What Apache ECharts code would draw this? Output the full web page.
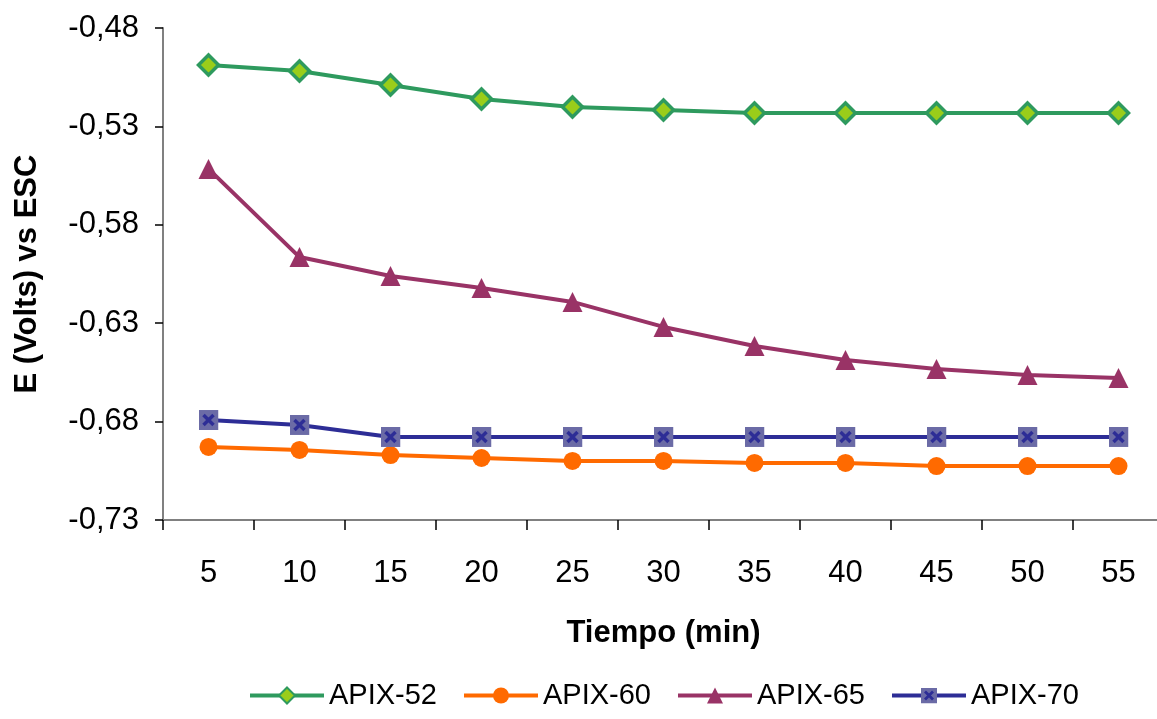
<!DOCTYPE html>
<html>
<head>
<meta charset="utf-8">
<script src="https://cdn.jsdelivr.net/npm/echarts@6/dist/echarts.min.js"></script>
<style>
  html, body { margin: 0; padding: 0; background: #fff; overflow: hidden; }
  /* el eje X del original sigue un poco más allá del borde derecho */
  #graph { width: 1166px; height: 719px; }
</style>
</head>
<body>
<div id="graph"></div>
<script>
var tiempo = ['5', '10', '15', '20', '25', '30', '35', '40', '45', '50', '55'];
var apix52 = [-0.4988, -0.5018, -0.5090, -0.5161, -0.5201, -0.5217, -0.5232, -0.5232, -0.5232, -0.5232, -0.5232];
var apix60 = [-0.6929, -0.6944, -0.6970, -0.6985, -0.7000, -0.7000, -0.7010, -0.7010, -0.7026, -0.7026, -0.7026];
var apix65 = [-0.5516, -0.5964, -0.6060, -0.6121, -0.6192, -0.6319, -0.6416, -0.6487, -0.6533, -0.6563, -0.6578];
var apix70 = [-0.6792, -0.6817, -0.6878, -0.6878, -0.6878, -0.6878, -0.6878, -0.6878, -0.6878, -0.6878, -0.6878];

// marcador cuadrado con aspa, como en Excel
var svgCuadro = '<svg xmlns="http://www.w3.org/2000/svg" width="20" height="20">' +
    '<rect x="0" y="0" width="20" height="20" fill="#6b6ba6"/>' +
    '<path d="M5 5 L15 15 M15 5 L5 15" stroke="#2d2d96" stroke-width="3.5"/></svg>';
var simboloCuadro = 'image://data:image/svg+xml;charset=utf-8,' + encodeURIComponent(svgCuadro);

var fuente = 'Liberation Sans, Arial, sans-serif';

var myChart = echarts.init(document.getElementById('graph'));

var option = {
    animation: false,
    backgroundColor: '#ffffff',
    textStyle: { fontFamily: fuente },
    grid: {
        left: 163,
        top: 28,
        width: 1001,
        bottom: 199
    },
    legend: {
        bottom: 4,
        left: 243,
        itemWidth: 74,
        itemHeight: 20,
        itemGap: 25,
        lineStyle: { width: 4 },
        textStyle: { fontSize: 29, color: '#000', fontFamily: fuente },
        data: ['APIX-52', 'APIX-60', 'APIX-65', 'APIX-70']
    },
    xAxis: {
        type: 'category',
        data: tiempo,
        boundaryGap: true,
        name: 'Tiempo (min)',
        nameLocation: 'middle',
        nameGap: 98,
        nameTextStyle: { fontSize: 31, fontWeight: 'bold', color: '#000' },
        axisLine: { lineStyle: { color: '#808080', width: 2 } },
        axisTick: { show: true, length: 10, lineStyle: { color: '#000', width: 1.5 } },
        axisLabel: { fontSize: 31, color: '#000', margin: 38 },
        splitLine: { show: false }
    },
    yAxis: {
        type: 'value',
        min: -0.73,
        max: -0.48,
        interval: 0.05,
        name: 'E (Volts) vs ESC',
        nameLocation: 'middle',
        nameGap: 120,
        nameTextStyle: { fontSize: 31, fontWeight: 'bold', color: '#000' },
        axisLine: { show: true, lineStyle: { color: '#808080', width: 2 } },
        axisTick: { show: true, length: 8, lineStyle: { color: '#000', width: 1.5 } },
        axisLabel: {
            fontSize: 31,
            color: '#000',
            margin: 24,
            formatter: function (v) { return v.toFixed(2).replace('.', ','); }
        },
        splitLine: { show: false }
    },
    series: [
        {
            name: 'APIX-52',
            type: 'line',
            data: apix52,
            symbol: 'diamond',
            symbolSize: 20,
            lineStyle: { color: '#2e9a5e', width: 4 },
            itemStyle: { color: '#9acd1a', borderColor: '#2e9a5e', borderWidth: 3.5 }
        },
        {
            name: 'APIX-60',
            type: 'line',
            data: apix60,
            symbol: 'circle',
            symbolSize: 18,
            lineStyle: { color: '#ff6a00', width: 4 },
            itemStyle: { color: '#ff6a00', borderColor: '#ff6a00', borderWidth: 0 }
        },
        {
            name: 'APIX-65',
            type: 'line',
            data: apix65,
            symbol: 'triangle',
            symbolSize: 20,
            lineStyle: { color: '#993366', width: 4 },
            itemStyle: { color: '#993366', borderWidth: 0 }
        },
        {
            name: 'APIX-70',
            type: 'line',
            data: apix70,
            symbol: simboloCuadro,
            symbolSize: 20,
            lineStyle: { color: '#2d2d96', width: 4 },
            itemStyle: { color: '#2d2d96' }
        }
    ]
};

myChart.setOption(option);
</script>
</body>
</html>
